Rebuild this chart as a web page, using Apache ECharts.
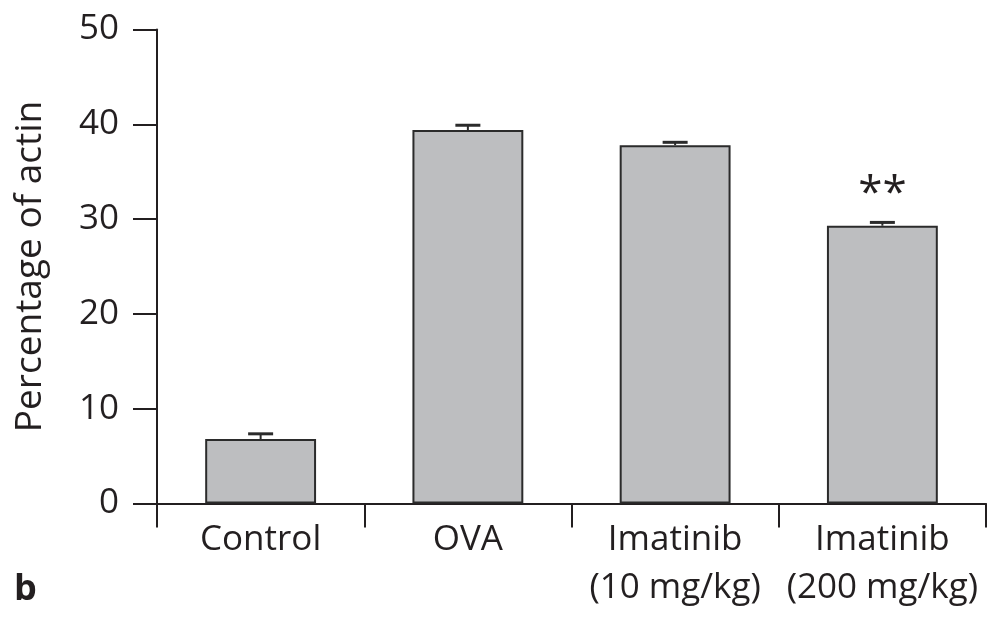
<!DOCTYPE html>
<html>
<head>
<meta charset="utf-8">
<script src="https://cdn.jsdelivr.net/npm/echarts@6/dist/echarts.min.js"></script>
<style>
  html, body { margin: 0; padding: 0; background: #fff; }
  #chart { width: 993px; height: 621px; }
</style>
</head>
<body>
<div id="chart"></div>
<script>
// Group labels, actin percentages, SEM and significance marks
const categories = ['Control', 'OVA', 'Imatinib\n(10 mg/kg)', 'Imatinib\n(200 mg/kg)'];
const values = [6.8, 39.4, 37.8, 29.3];
const errors = [0.55, 0.5, 0.3, 0.35];
const significance = ['', '', '', '**'];
const yTicks = [0, 10, 20, 30, 40, 50];

const ink = '#231f20';
const font = '"Open Sans", "Noto Sans", sans-serif';

const chart = echarts.init(document.getElementById('chart'), null, { renderer: 'canvas' });

chart.setOption({
  animation: false,
  backgroundColor: '#ffffff',
  grid: {
    left: 157, right: 7, top: 29.5, bottom: 117.5,
    containLabel: false, outerBoundsMode: 'none'
  },
  xAxis: {
    type: 'category',
    data: categories,
    boundaryGap: true,
    axisLine: { show: true, lineStyle: { color: ink, width: 2 } },
    axisTick: { show: true, length: 24, alignWithLabel: false, lineStyle: { color: ink, width: 2 } },
    axisLabel: {
      color: ink, fontFamily: font, fontSize: 35, lineHeight: 48, margin: 13, interval: 0
    }
  },
  yAxis: {
    type: 'value',
    min: yTicks[0],
    max: yTicks[yTicks.length - 1],
    interval: 10,
    name: 'Percentage of actin',
    nameLocation: 'middle',
    nameGap: 108,
    nameTextStyle: { color: ink, fontFamily: font, fontSize: 37 },
    axisLine: { show: true, lineStyle: { color: ink, width: 2 } },
    axisTick: { show: true, length: 24, lineStyle: { color: ink, width: 2 } },
    axisLabel: { color: ink, fontFamily: font, fontSize: 35, margin: 38 },
    splitLine: { show: false }
  },
  series: [
    {
      type: 'bar',
      data: values,
      barWidth: '53.5%',
      itemStyle: { color: '#bdbec0', borderColor: '#2b2b2b', borderWidth: 2 },
      z: 2
    },
    {
      // SEM whiskers above each bar plus the significance marks
      type: 'custom',
      data: values.map((v, i) => [i, v, v + errors[i], significance[i]]),
      z: 3,
      renderItem: function (params, api) {
        const i = api.value(0);
        const base = api.coord([i, api.value(1)]);
        const top = api.coord([i, api.value(2)]);
        const half = 12.5;
        const children = [
          {
            type: 'line',
            shape: { x1: base[0], y1: base[1], x2: top[0], y2: top[1] },
            style: { stroke: '#2b2b2b', lineWidth: 2 }
          },
          {
            type: 'line',
            shape: { x1: top[0] - half, y1: top[1], x2: top[0] + half, y2: top[1] },
            style: { stroke: '#2b2b2b', lineWidth: 3 }
          }
        ];
        const mark = significance[i];
        if (mark) {
          children.push({
            type: 'text',
            style: {
              text: mark, x: top[0], y: top[1] - 6,
              fill: ink, font: '44px ' + font,
              textAlign: 'center', textVerticalAlign: 'bottom'
            }
          });
        }
        return { type: 'group', children: children };
      }
    }
  ],
  graphic: [
    {
      type: 'text',
      left: 14,
      top: 572,
      style: { text: 'b', fill: ink, font: 'bold 36px ' + font }
    }
  ]
});
</script>
</body>
</html>
